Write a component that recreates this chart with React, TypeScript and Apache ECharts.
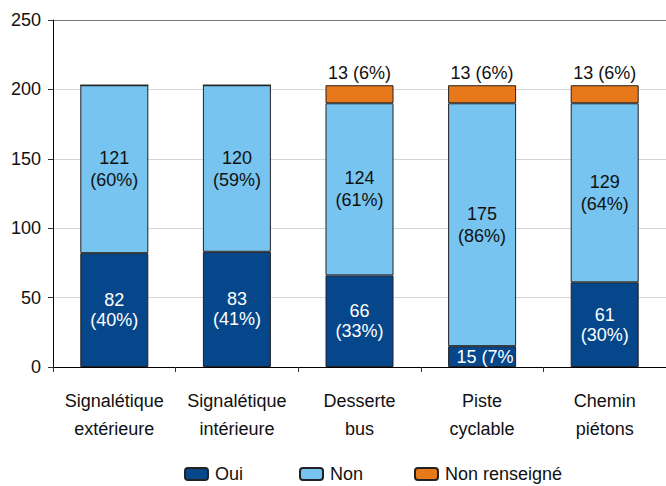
import React, { useEffect, useRef } from "react";
import * as echarts from "echarts";

const categories = ["Signalétique\nextérieure", "Signalétique\nintérieure", "Desserte\nbus", "Piste\ncyclable", "Chemin\npiétons"];
const seriesNames = ["Oui", "Non", "Non renseigné"];
const ouiValues = [82, 83, 66, 15, 61];
const ouiPct = [40, 41, 33, 7, 30];
const nonValues = [121, 120, 124, 175, 129];
const nonPct = [60, 59, 61, 86, 64];
const nrValues = [0, 0, 13, 13, 13];
const nrPct = [0, 0, 6, 6, 6];
const yTicks = [0, 50, 100, 150, 200, 250];

const FONT = "Liberation Sans, Arial, sans-serif";

export default function App() {
  const ref = useRef<HTMLDivElement>(null);
  useEffect(() => {
    if (!ref.current) return;
    const chart = echarts.init(ref.current, null, { renderer: "svg" });
    const border = { borderColor: "#222", borderWidth: 1 };
    const ouiData = ouiValues.map((v, i) => {
      if (v < 25) {
        return {
          value: v,
          label: {
            formatter: `${v} (${ouiPct[i]}%)`,
            width: 59,
            overflow: "truncate",
            ellipsis: "",
            offset: [3, 0],
          },
        };
      }
      return v;
    });
    const legendLefts = [184, 299, 414];
    chart.setOption({
      animation: false,
      textStyle: { fontFamily: FONT },
      grid: { left: 53, right: 0, top: 20, bottom: 119, containLabel: false },
      legend: seriesNames.map((n, i) => ({
        left: legendLefts[i],
        top: 465,
        padding: 0,
        itemWidth: 23,
        itemHeight: 12,
        textStyle: { fontSize: 18, color: "#111", fontFamily: FONT, padding: [0, 0, 0, 2] },
        data: [n],
      })),
      xAxis: {
        type: "category",
        data: categories,
        axisLine: { lineStyle: { color: "#000", width: 1 } },
        axisTick: { show: true, alignWithLabel: false, interval: 0, length: 5, lineStyle: { color: "#333" } },
        axisLabel: { fontSize: 18, color: "#111", lineHeight: 28, margin: 20, interval: 0, fontFamily: FONT },
      },
      yAxis: {
        type: "value",
        min: yTicks[0],
        max: yTicks[yTicks.length - 1],
        interval: 50,
        axisLine: { show: true, lineStyle: { color: "#000", width: 1 } },
        axisTick: { show: true, length: 5, lineStyle: { color: "#333" } },
        axisLabel: { fontSize: 18, color: "#111", margin: 12, fontFamily: FONT },
        splitLine: { show: true, lineStyle: { color: ["#d4d4d4", "#d4d4d4", "#d4d4d4", "#d4d4d4", "#d4d4d4", "#777"] } },
      },
      series: [
        {
          name: seriesNames[0],
          type: "bar",
          stack: "a",
          barWidth: 68,
          data: ouiData,
          itemStyle: { color: "#05478a", ...border },
          label: {
            show: true,
            position: "inside",
            color: "#fff",
            fontSize: 18,
            lineHeight: 20,
            fontFamily: FONT,
            formatter: (p: any) => `${ouiValues[p.dataIndex]}\n(${ouiPct[p.dataIndex]}%)`,
          },
        },
        {
          name: seriesNames[1],
          type: "bar",
          stack: "a",
          barWidth: 68,
          data: nonValues,
          itemStyle: { color: "#76c4ef", ...border },
          label: {
            show: true,
            position: "inside",
            color: "#111",
            fontSize: 18,
            lineHeight: 22,
            fontFamily: FONT,
            formatter: (p: any) => `${nonValues[p.dataIndex]}\n(${nonPct[p.dataIndex]}%)`,
          },
        },
        {
          name: seriesNames[2],
          type: "bar",
          stack: "a",
          barWidth: 68,
          data: nrValues,
          itemStyle: { color: "#e8791b", ...border },
          label: {
            show: true,
            position: "top",
            distance: 3,
            color: "#111",
            fontSize: 18,
            fontFamily: FONT,
            formatter: (p: any) => (nrValues[p.dataIndex] > 0 ? `${nrValues[p.dataIndex]} (${nrPct[p.dataIndex]}%)` : ""),
          },
        },
      ],
    });
    return () => chart.dispose();
  }, []);
  return (
    <div
      ref={ref}
      style={{ position: "fixed", left: 0, top: 0, width: 666, height: 486, background: "#fff" }}
    />
  );
}
